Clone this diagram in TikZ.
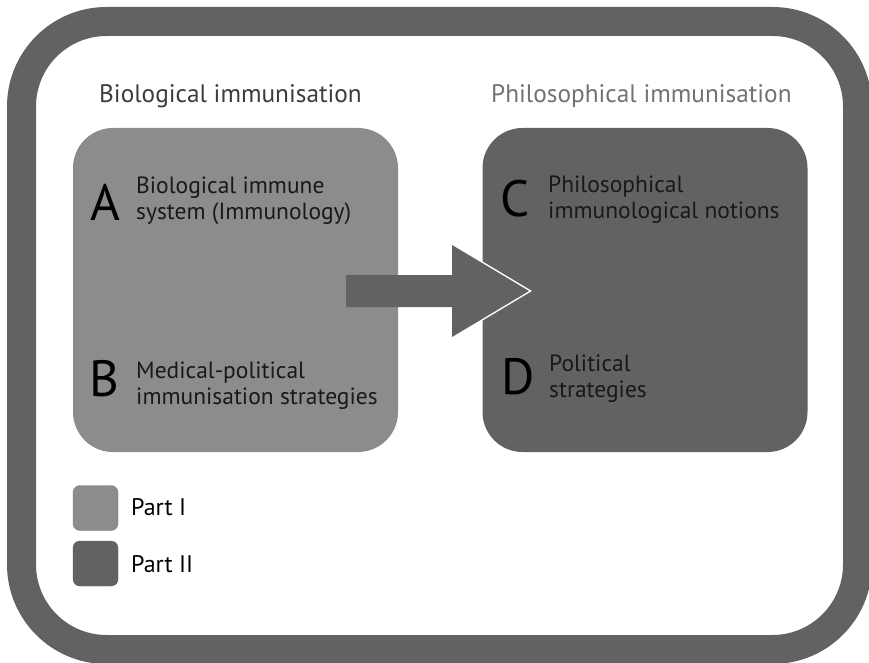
\documentclass[tikz,border=0pt]{standalone}
\usepackage{fontspec}
\setmainfont{PT Sans}
\definecolor{light}{HTML}{8C8C8C}
\definecolor{dark}{HTML}{626262}
\definecolor{headA}{HTML}{3C3C3C}
\definecolor{headB}{HTML}{727272}
\begin{document}
\begin{tikzpicture}[x=1pt,y=-1pt,
  box/.style={rounded corners=40pt, inner sep=0pt, minimum width=325pt, minimum height=324pt},
  legbox/.style={rounded corners=7pt, inner sep=0pt, minimum width=45pt, minimum height=45pt},
  head/.style={anchor=base west, inner sep=0pt, font=\fontsize{25.3}{26}\selectfont},
  letter/.style={anchor=base west, inner sep=0pt, text=black, font=\fontsize{51}{51}\selectfont},
  txt/.style={anchor=base west, inner sep=0pt, align=left, text=black!90, font=\fontsize{23.5}{26}\selectfont},
  legtxt/.style={anchor=base west, inner sep=0pt, text=black, font=\fontsize{24}{26}\selectfont}]
\useasboundingbox (0,0) rectangle (869,663);
\clip (0,0) rectangle (869,663);
\fill[white] (0,0) rectangle (869,663);
% outer frame
\draw[dark, line width=29pt, rounded corners=85pt] (21.5,21.5) rectangle (857.5,649.5);
% headers
\node[head, text=headA] (h1) at (99,103) {Biological immunisation};
\node[head, text=headB] (h2) at (491,103) {Philosophical immunisation};
% boxes
\node[box, fill=light] (p1) at (235.5,290) {};
\node[box, fill=dark] (p2) at (645,290) {};
% arrow
\draw[white, line width=3pt, line join=miter] (452,245) -- (529,291) -- (452,337);
\fill[dark] (346,275) -- (452,275) -- (452,245) -- (529,291) -- (452,337) -- (452,307) -- (346,307) -- cycle;
% letters
\node[letter] (A) at (90,220) {A};
\node[txt] (At) at (136,219) {Biological immune\\system (Immunology)};
\node[letter] (B) at (89,396) {B};
\node[txt] (Bt) at (136,404) {Medical-political\\immunisation strategies};
\node[letter] (C) at (500,216) {C};
\node[txt] (Ct) at (548,218) {Philosophical\\immunological notions};
\node[letter] (D) at (501,394) {D};
\node[txt] (Dt) at (549,397) {Political\\strategies};
% legend
\node[legbox, fill=light, draw=light!90!black] (l1) at (95.5,508) {};
\node[legbox, fill=dark, draw=dark!90!black] (l2) at (95.5,563.5) {};
\node[legtxt] (l1t) at (131,515) {Part I};
\node[legtxt] (l2t) at (131,572) {Part II};
\end{tikzpicture}
\end{document}
